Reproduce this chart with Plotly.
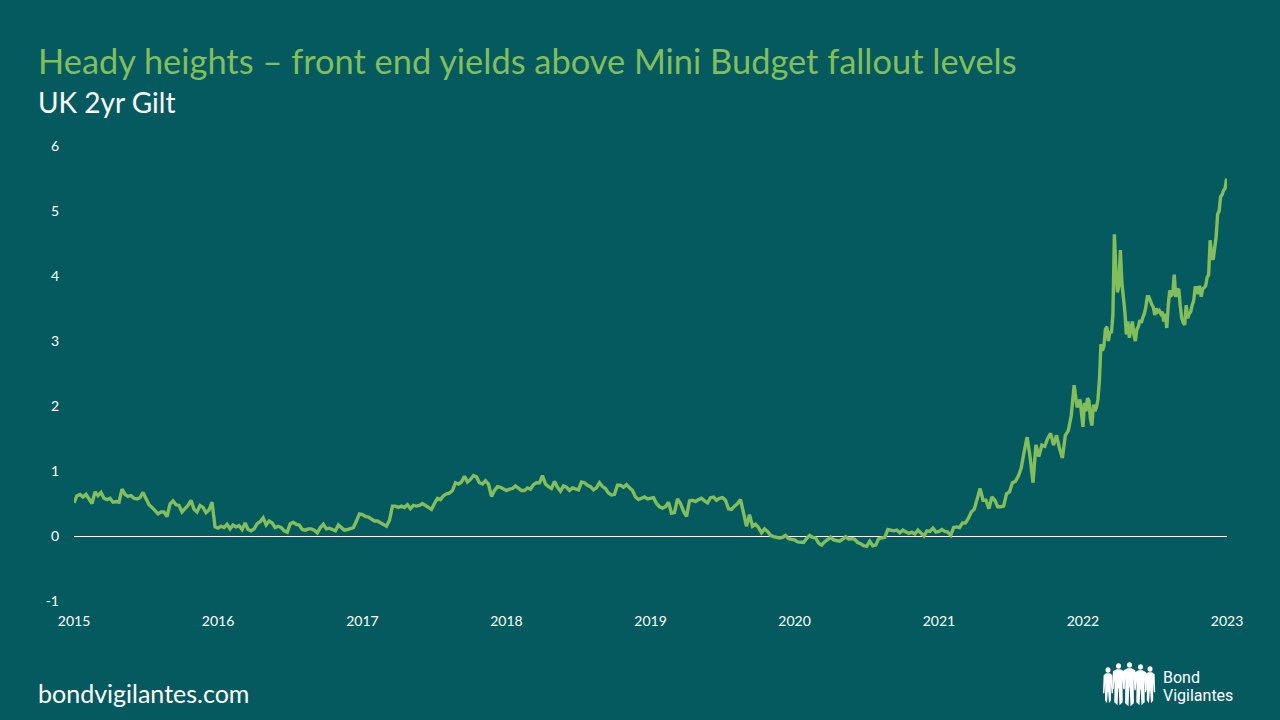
import pandas as pd
import plotly.graph_objects as go

# UK 2yr gilt yield (evenly spaced inside each year)
y2015 = [.51, .62, .64, .60, .64, .57, .50, .68, .62, .67, .58, .56, .58, .52, .53, .52,
         .72, .64, .61, .62, .58, .57, .59, .67, .56, .48, .44, .39, .34, .37, .37, .30,
         .49, .54, .48, .47, .37, .42, .47, .55, .41, .37, .47, .44, .36, .40, .52, .14]
y2016 = [.12, .15, .13, .18, .11, .17, .14, .16, .10, .20, .10, .08, .11, .19, .22, .28,
         .17, .23, .20, .13, .15, .13, .08, .06, .19, .21, .18, .17, .10, .09, .11, .11,
         .09, .05, .13, .18, .11, .12, .10, .08, .17, .13, .09, .10, .11, .13, .23, .34]
y2017 = [.33, .30, .29, .26, .23, .23, .20, .17, .15, .24, .46, .46, .44, .46, .44, .48,
         .42, .47, .46, .47, .50, .47, .44, .41, .50, .58, .56, .62, .65, .66, .70, .82,
         .80, .83, .92, .83, .87, .93, .91, .82, .80, .85, .80, .61, .70, .76, .75, .72]
y2018 = [.70, .72, .73, .77, .74, .70, .70, .74, .72, .79, .82, .82, .93, .80, .76, .73,
         .84, .75, .69, .77, .75, .70, .74, .73, .71, .83, .82, .78, .76, .71, .74, .82,
         .76, .73, .66, .63, .64, .78, .78, .75, .79, .74, .70, .60, .56, .58, .60, .57]
y2019 = [.58, .59, .50, .45, .43, .45, .52, .35, .36, .57, .50, .38, .30, .54, .55, .53,
         .56, .58, .54, .51, .59, .60, .55, .58, .59, .55, .42, .41, .46, .50, .56, .38,
         .15, .33, .15, .18, .13, .05, .11, .07, .01, -.01, -.02, -.03, -.02, .01, -.04, -.05]
y2020 = [-.06, -.09, -.10, -.10, -.04, .01, -.02, -.03, -.11, -.14, -.09, -.06, -.02, -.06, -.07, -.08,
         -.05, -.01, -.05, -.04, -.05, -.10, -.12, -.15, -.16, -.08, -.15, -.14, -.04, -.03, -.02, .10,
         .09, .08, .09, .05, .09, .06, .04, .06, .03, .09, .04, .00, .08, .07, .12, .06]
y2021 = [.07, .10, .07, .06, .01, .13, .14, .13, .20, .20, .27, .37, .41, .55, .73, .55,
         .55, .42, .60, .55, .45, .45, .46, .65, .68, .82, .84, .92, 1.05, 1.30, 1.52, 1.22,
         .82, 1.40, 1.22, 1.40, 1.38, 1.50, 1.58, 1.40, 1.55, 1.35, 1.20, 1.55, 1.62, 1.85, 2.32, 1.98, 2.10]
y2022 = [1.68, 2.05, 1.92, 2.12, 2.08, 1.80, 1.70, 2.02, 1.92, 1.98, 2.10, 2.40, 2.95, 2.85, 2.92, 3.18,
         3.22, 3.00, 3.15, 3.12, 3.40, 4.64, 4.10, 3.75, 3.85, 4.40, 3.90, 3.70, 3.45, 3.10, 3.30, 3.05,
         3.20, 3.30, 3.10, 3.00, 3.18, 3.22, 3.32, 3.28, 3.36, 3.42, 3.52, 3.68, 3.68, 3.60, 3.56, 3.52,
         3.40, 3.50, 3.45, 3.47, 3.42, 3.45, 3.30, 3.42, 3.20, 3.55, 3.78, 3.70, 3.72, 4.02, 3.68, 3.78,
         3.80, 3.55, 3.35, 3.28, 3.25, 3.55, 3.35, 3.42, 3.45, 3.55, 3.62, 3.82, 3.82, 3.72, 3.85, 3.68,
         3.80, 3.82, 3.85, 3.98, 4.02, 4.55, 4.30, 4.25, 4.45, 4.60, 4.95, 5.00, 5.22, 5.25, 5.32, 5.35, 5.50]

year_values = {2015: y2015, 2016: y2016, 2017: y2017, 2018: y2018,
               2019: y2019, 2020: y2020, 2021: y2021, 2022: y2022}

year_ticks = [str(y) + "-01-01" for y in range(2015, 2024)]
year_labels = [str(y) for y in range(2015, 2024)]
yield_ticks = [-1, 0, 1, 2, 3, 4, 5, 6]
yield_labels = ["-1", "0", "1", "2", "3", "4", "5", "6"]

BG = "#055A60"
GREEN = "#82BE5C"
FONT = "Lato"

dates = []
values = []
for year, vals in year_values.items():
    if year == 2022:
        days = pd.date_range("2022-01-01", "2022-12-31", periods=len(vals))
    else:
        days = pd.date_range(f"{year}-01-01", f"{year + 1}-01-01", periods=len(vals) + 1)[:-1]
    dates += list(days)
    values += vals

fig = go.Figure()
fig.add_trace(go.Scatter(x=dates, y=values, mode="lines",
                         line=dict(color=GREEN, width=3.4), showlegend=False))


# paper coordinates from pixels on the 1280x720 slide
def px(x):
    return (x - 74) / 1153


def py(y):
    return (601.5 - y) / 456


# logo people: head plus a body outline
def person(cx, top, bottom, w):
    head = dict(type="circle", xref="paper", yref="paper", fillcolor="white", line_width=0,
                x0=px(cx - 2.5), x1=px(cx + 2.5), y0=py(top + 5.5), y1=py(top))
    s = top + 6
    pts = [(cx - 2, s), (cx + 2, s), (cx + w, s + 2), (cx + w + 0.6, s + 20), (cx + w - 0.8, s + 20),
           (cx + w - 1.6, s + 10), (cx + w - 1.4, bottom - 3), (cx + 1, bottom),
           (cx + 0.2, s + 19), (cx - 0.2, s + 19), (cx - 1, bottom), (cx - w + 1.4, bottom - 3),
           (cx - w + 1.6, s + 10), (cx - w + 0.8, s + 20), (cx - w - 0.6, s + 20), (cx - w, s + 2)]
    path = "M " + " L ".join(f"{px(a):.5f},{py(b):.5f}" for a, b in pts) + " Z"
    body = dict(type="path", xref="paper", yref="paper", path=path, fillcolor="white", line_width=0)
    return [head, body]


logo = []
logo += person(1108, 668, 704, 4.4)
logo += person(1118.5, 664, 706, 5.6)
logo += person(1129.5, 663, 707, 5.8)
logo += person(1140.5, 665, 706, 5.6)
logo += person(1150, 667, 704, 4.6)


def label(text, x, y, size, color="white", family=FONT):
    return dict(text=text, x=px(x), y=py(y), xref="paper", yref="paper", showarrow=False,
                xanchor="left", yanchor="middle", align="left",
                font=dict(size=size, color=color, family=family))


fig.update_layout(
    width=1280, height=720,
    autosize=False,
    paper_bgcolor=BG, plot_bgcolor=BG,
    margin=dict(l=74, r=53, t=145.5, b=118.5),
    font=dict(family=FONT, color="white", size=14),
    title=dict(text="Heady heights – front end yields above Mini Budget fallout levels",
               x=38 / 1280, xref="container", xanchor="left",
               y=1 - 62 / 720, yref="container", yanchor="middle",
               font=dict(size=34.4, color=GREEN, family=FONT)),
    xaxis=dict(type="date", range=["2015-01-01", "2023-01-01"], tickvals=year_ticks, ticktext=year_labels,
               showgrid=False, zeroline=False, showline=False, ticks="", tickangle=0,
               ticklabelstandoff=10, tickfont=dict(size=14, color="white")),
    yaxis=dict(range=[-1, 6], tickvals=yield_ticks, ticktext=yield_labels,
               showgrid=False, zeroline=True, zerolinecolor="white", zerolinewidth=1,
               showline=False, ticks="", ticklabelstandoff=14,
               tickfont=dict(size=14, color="white")),
    annotations=[
        label("UK 2yr Gilt", 36, 101, 28),
        label("bondvigilantes.com", 36, 693.5, 25),
        label("Bond", 1161, 678.5, 16, family="Roboto"),
        label("Vigilantes", 1161, 696, 16, family="Roboto"),
    ],
    shapes=logo,
)

# the page body has a default margin that would shift the slide
fig.write_html("out.html", config={"displayModeBar": False},
               post_script="document.body.style.margin='0';")
